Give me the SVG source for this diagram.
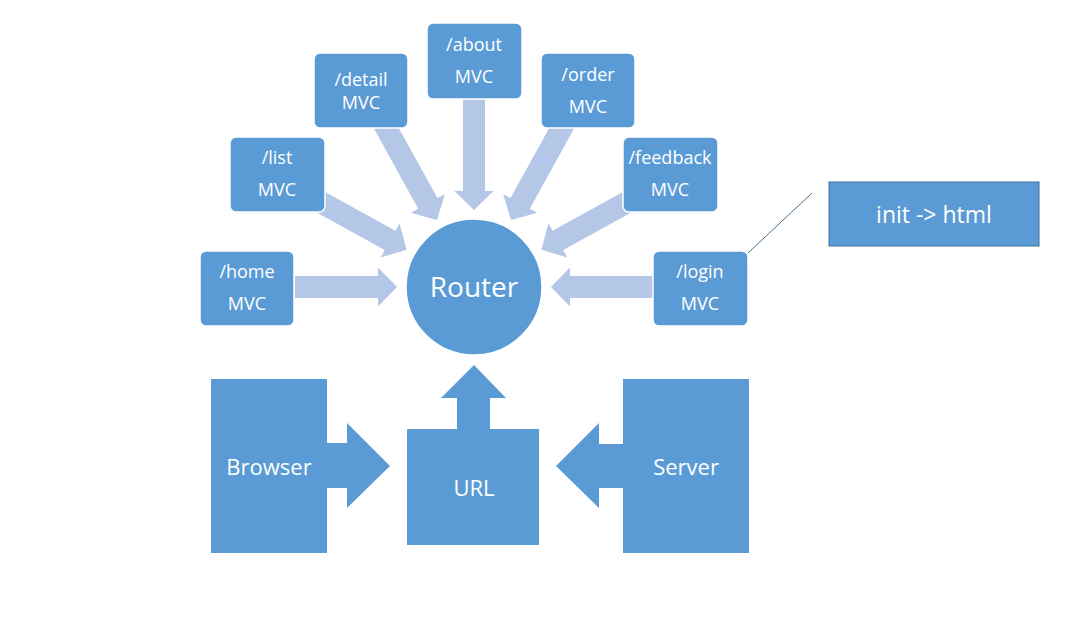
<svg xmlns="http://www.w3.org/2000/svg" width="1087" height="624" viewBox="0 0 1087 624">
  <defs>
    <style>
      .node { fill: #5B9BD5; stroke: #FFFFFF; stroke-width: 1.5; }
      .blk { fill: #5B9BD5; }
      .arr { fill: #B4C7E7; }
      .t { font-family: "Open Sans", "Noto Sans", "Liberation Sans", sans-serif; fill: #FFFFFF; text-anchor: middle; }
      .s { font-size: 18px; }
      .m { font-size: 22px; }
    </style>
    <polygon id="a102" points="-102,-11 -19,-11 -19,-19.5 0,0 -19,19.5 -19,11 -102,11"/>
    <polygon id="a111" points="-111,-11 -19,-11 -19,-19.5 0,0 -19,19.5 -19,11 -111,11"/>
    <polygon id="a112" points="-112,-11 -19,-11 -19,-19.5 0,0 -19,19.5 -19,11 -112,11"/>
    <polygon id="a103" points="-103,-11 -19,-11 -19,-19.5 0,0 -19,19.5 -19,11 -103,11"/>
  </defs>
  <rect width="1087" height="624" fill="#FFFFFF"/>

  <g id="connectors">
    <use href="#a102" class="arr" transform="translate(397,287)"/>
    <use href="#a102" class="arr" transform="translate(551,287) rotate(180)"/>
    <use href="#a111" class="arr" transform="translate(474,210) rotate(90)"/>
    <use href="#a112" class="arr" transform="translate(437,220) rotate(61.1)"/>
    <use href="#a112" class="arr" transform="translate(511,220) rotate(118.9)"/>
    <use href="#a103" class="arr" transform="translate(406.7,249.7) rotate(29)"/>
    <use href="#a103" class="arr" transform="translate(541.3,249.7) rotate(151)"/>
    <line x1="812" y1="193" x2="748" y2="253" stroke="#4A6D8C" stroke-width="1"/>
  </g>

  <g id="home">
    <rect class="node" x="200" y="251" width="94" height="75" rx="6"/>
    <text class="t s" x="247" y="278">/home</text>
    <text class="t s" x="247" y="310">MVC</text>
  </g>
  <g id="list">
    <rect class="node" x="230" y="137" width="95" height="75" rx="6"/>
    <text class="t s" x="277" y="164">/list</text>
    <text class="t s" x="277" y="196">MVC</text>
  </g>
  <g id="detail">
    <rect class="node" x="314" y="53" width="94" height="75" rx="6"/>
    <text class="t s" x="361" y="86">/detail</text>
    <text class="t s" x="361" y="109">MVC</text>
  </g>
  <g id="about">
    <rect class="node" x="427" y="23" width="95" height="76" rx="6"/>
    <text class="t s" x="474" y="51">/about</text>
    <text class="t s" x="474" y="83">MVC</text>
  </g>
  <g id="order">
    <rect class="node" x="541" y="53" width="94" height="75" rx="6"/>
    <text class="t s" x="588" y="81">/order</text>
    <text class="t s" x="588" y="113">MVC</text>
  </g>
  <g id="feedback">
    <rect class="node" x="623" y="137" width="95" height="75" rx="6"/>
    <text class="t s" x="670" y="164">/feedback</text>
    <text class="t s" x="670" y="196">MVC</text>
  </g>
  <g id="login">
    <rect class="node" x="653" y="251" width="95" height="75" rx="6"/>
    <text class="t s" x="700" y="278">/login</text>
    <text class="t s" x="700" y="310">MVC</text>
  </g>

  <g id="router">
    <circle class="node" cx="474" cy="287" r="68"/>
    <text class="t" x="474" y="297" style="font-size:28px">Router</text>
  </g>

  <g id="browser">
    <polygon class="blk" points="211,379 327,379 327,443 347,443 347,423 390,466 347,508 347,488 327,488 327,553 211,553"/>
    <text class="t m" x="269" y="475">Browser</text>
  </g>
  <g id="url">
    <polygon class="blk" points="407,429 457,429 457,398 441,398 474,365 506,398 490,398 490,429 539,429 539,545 407,545"/>
    <text class="t m" x="474" y="496">URL</text>
  </g>
  <g id="server">
    <polygon class="blk" points="623,379 749,379 749,553 623,553 623,488 599,488 599,508 556,466 599,423 599,444 623,444"/>
    <text class="t m" x="686" y="475">Server</text>
  </g>

  <g id="init">
    <rect x="829" y="182" width="210" height="64" fill="#5B9BD5" stroke="#41719C" stroke-width="1"/>
    <text class="t" x="934" y="223" style="font-size:23px">init -&gt; html</text>
  </g>
</svg>
